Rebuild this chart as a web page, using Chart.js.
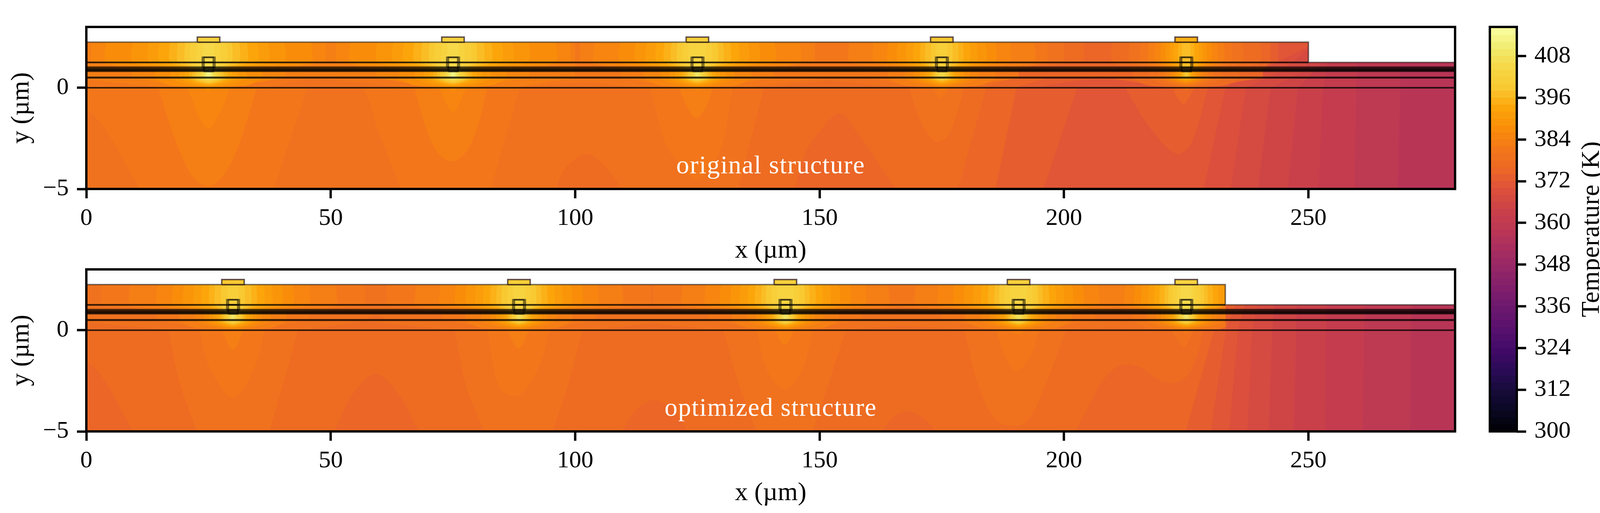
<!DOCTYPE html>
<html><head><meta charset="utf-8">
<script src="https://cdn.jsdelivr.net/npm/chart.js@4"></script>
<style>html,body{margin:0;padding:0;background:#fff;overflow:hidden;width:4146px;height:1314px}canvas{position:absolute}</style>
</head><body>
<canvas id="top" width="3800" height="700" style="left:0;top:0;width:3800px;height:700px"></canvas>
<canvas id="bot" width="3800" height="700" style="left:0;top:621px;width:3800px;height:700px"></canvas>
<canvas id="bar" width="386" height="1314" style="left:3760px;top:0;width:386px;height:1314px"></canvas>
<script>
// ---------- axis data ----------
const xTicks=[0,50,100,150,200,250];
const yTicks=[-5,0];
const cbarTicks=[300,312,324,336,348,360,372,384,396,408];
const xRange=[0,280], yRange=[-5,3], cbarRange=[300,416.4];
const cbarLevels=[300,302,304,306,308,310,312,314,316,318,320,322,324,326,328,330,332,334,336,338,340,342,344,346,348,350,352,354,356,358,360,362,364,366,368,370,372,374,376,378,380,382,384,386,388,390,392,394,396,398,400,402,404,406,408,410,412,414,416];
const infernoAnchors=[[0,'000004'],[.05,'0a0722'],[.1,'160b39'],[.15,'2b0b57'],[.2,'420a68'],[.25,'57106e'],[.3,'6a176e'],[.35,'7f1e6c'],[.4,'932667'],[.45,'a82e5f'],[.5,'bc3754'],[.55,'cc4248'],[.6,'dd513a'],[.65,'ed6925'],[.7,'f37819'],[.75,'f98e09'],[.8,'fca50a'],[.85,'f9c932'],[.9,'f6d746'],[.95,'f1ed71'],[1,'fcffa4']];
// ---------- structure ----------
const layerLines=[1.02,.97,.93,.9,.87,.84,.81];
const singleLines=[[.5,5],[0,4]];
const surfaceTop=[[0,2.25],[250,2.25],[250,1.25],[280,1.25]];
const surfaceBot=[[0,2.25],[233,2.25],[233,1.25],[280,1.25]];
// source: x, base level, top-zone peak, glow peak, top-width factor
const sourcesTop=[[25,384,404,412,1],[75,384,404,412,1],[125,382,403,408,1],[175,380,400,405,.9],[225,374,396,398,.72]];
const sourcesBot=[[30,380,400,408,1],[88.5,380,402,406,1],[143,380,403,408,1],[190.7,380,403,407,1],[225,378,404,408,.9]];
const topHalfWidths=[21,15.5,12.2,10,7.9,6.3,4.8,3.7,2.4,1.2];
const glowHalfWidths=[11,7.8,6,4.9,4,3.3,2.7,2.2,1.8,1.4,1.1,.8,.55,.3];
const glowTips=[-.19,.02,.08,.12,.16,.2,.24,.28,.32,.36,.4,.45,.5,.55];
const annotations=[['original structure'],['optimized structure']];
// ---------- contours of the lower field: [level, boundary points] ----------
const leftOfTop=[
[358,[268.3,-5],[268.8,0],[268.8,1.3]],
[360,[259.4,-5],[259.8,0],[260,1.3]],
[362,[252.1,-5],[253,0],[254,1.3]],
[364,[245.8,-5],[247.8,0],[251.2,.8],[253,1.3]],
[366,[239.7,-5],[242.3,0],[248.9,.8],[252,2.3]],
[368,[234.1,-5],[237.2,0],[244.3,.8],[252,2.3]],
[370,[228.6,-5],[233,0],[240,.8],[252,2.3]],
[372,[195.8,-5],[202.7,.02],[228,.02],[236.6,.8],[243.8,1.3],[243.8,2.3]],
[374,[186,-5],[190.3,.02],[197,.5],[222,.5],[234,.8],[240.3,1.3],[240.3,2.3]],
[376,[178.3,-5],[184.1,.02],[190,.5],[190,.9],[204,1.3],[204,2.3]],
[378,[133.4,-5],[138.6,0],[140.7,.04],[152,.36],[165.2,.04],[178,.35],[178,.9],[200,1.3],[200,2.3]],
[380,[82.7,-5],[88.7,.02],[102.2,.28],[112.6,.04],[135,.04],[152,.5],[166,.5],[166,2.3]]];
const shapesTop=[
[382,0,[-2,.45],[15.2,.03],[27,.03],[36,.5],[70,.5],[85,.03],[88,.03],[100,.5],[100,3],[-2,3]],
[370,.3,[194.3,.03],[207.2,.42],[221.8,.03]],
[376,.35,[95.5,-5.4],[97.9,-4],[102.5,-3.27],[106.5,-4],[110.5,-5.4]],
[374,.35,[144.4,-5.4],[146.8,-3.4],[149.3,-2.37],[154.2,-1.27],[157.9,-2.3],[160.6,-3.2],[166.7,-5.4]],
[378,.3,[-2,-.9],[.2,-1.15],[2,-1.47],[4.4,-2.24],[6.9,-3.27],[10.9,-5],[12,-5.5],[-2,-5.5]],
[378,.3,[37.8,-5.4],[41.1,-2.95],[43.9,-1],[45.7,.03],[56.1,.03],[59.5,-1.98],[65,-5.4]],
[378,.3,[36.9,.03],[46.6,.42],[65,.03]],
[380,.35,[115.3,.03],[118.7,-2.88],[121.8,-3.85],[124.8,-4.58],[128.2,-3.78],[130.3,-2.63],[132.2,.03]],
[378,.35,[168.2,.03],[170.7,-1.66],[173.1,-2.56],[174.4,-2.66],[176.2,-2.37],[178,-1.34],[179.6,.03]],
[380,.35,[173.1,.03],[174.7,-.52],[176.5,.03]],
[372,.35,[212.4,.03],[217.6,-1.98],[223.1,-3.27],[226.1,-2.7],[229.5,.03]],
[374,.35,[222.1,.03],[223,-.4],[224.4,-.8],[225.8,-.4],[226.7,.03]],
[382,.35,[14.7,.03],[16.7,-1.53],[19.1,-3.14],[21.9,-4.43],[25,-4.87],[27.7,-4.43],[30.7,-3.14],[33.2,-1.34],[34.9,.03]],
[384,.35,[20.6,.03],[21.9,-.75],[22.8,-1.35],[25,-2.03],[27.1,-1.35],[28.3,-.75],[29.4,.03]],
[382,.35,[67.1,.03],[69.3,-1.85],[71.7,-3.14],[74.8,-3.64],[77.8,-3.14],[80.3,-1.73],[82,.03]],
[384,.35,[72,.03],[75,-1.2],[77.8,.03]],
[382,.35,[121.2,.03],[123,-1],[124.8,-1.5],[126.7,-1],[128.2,.03]]];
const leftOfBot=[
[358,[270.8,-5],[271,0],[271.1,1.3]],
[360,[261.1,-5],[261.4,0],[261.6,1.3]],
[362,[253.4,-5],[253.6,0],[253.8,1.3]],
[364,[247,-5],[247.5,0],[247.6,1.3]],
[366,[241.9,-5],[242.6,0],[243,1.3]],
[368,[237.5,-5],[238.5,0],[239.6,1.3]],
[370,[233.8,-5],[235.6,0],[237.1,1.3]],
[372,[230,-5],[233.1,0],[235,1.3]],
[374,[224.9,-5],[230.7,0],[233.1,.8],[233.1,2.3]],
[376,[202.3,-5],[207.2,-2.73],[209.2,-2.1],[211.4,-1.73],[213.3,-1.67],[215.7,-1.83],[218,-2.25],[220,-2.54],[222.7,-2.63],[224.6,-2.4],[226.1,-1.96],[227.6,-1],[228.6,0],[232,.4],[233,2.3]]];
const shapesBot=[
[378,0,[-2,.45],[15.4,.03],[44.8,.03],[57,.45],[73.9,.03],[104.3,.03],[115.6,.35],[127.9,.03],[155.4,.03],[167,.22],[179.9,.03],[201,.03],[209.6,.13],[219.4,.03],[232,.03],[233,3],[-2,3]],
[376,.3,[57,.5],[59.2,.8],[61.4,.5]],
[374,.3,[-2,-1.2],[.2,-1.57],[2.6,-2.09],[5,-2.99],[9.3,-4.93],[10,-5.5],[-2,-5.5]],
[374,.35,[50.7,-5],[54.6,-3.12],[59.2,-2.17],[63.8,-3.12],[68,-5]],
[374,.35,[109.5,-5],[112.6,-3.9],[116.1,-3.46],[119.9,-3.9],[122.9,-5]],
[374,.35,[162.7,-5],[165.2,-4.27],[168.2,-4],[171,-4.3],[174,-5]],
[378,.25,[16.7,.03],[19.1,-2.6],[22.5,-4.93],[23,-5.5],[37,-5.5],[37.5,-4.93],[41.1,-1.96],[43.3,.03]],
[378,.25,[75.3,.03],[77.8,-2.86],[81.3,-4.93],[82,-5.5],[95,-5.5],[95.5,-4.93],[97.9,-3.2],[101.6,.03]],
[378,.25,[130.3,.03],[133.4,-2.6],[137,-4.93],[137.5,-5.5],[148.2,-5.5],[148.7,-4.93],[152.3,-2.28],[155.4,.03]],
[378,.35,[179.6,.03],[182.3,-2.6],[186,-4.4],[190.3,-4.72],[193.1,-4.3],[196.8,-2.34],[200.4,.03]],
[380,.35,[23.1,.03],[25.2,-1.83],[30,-3.34],[34.4,-1.83],[36.5,.03]],
[380,.35,[82,.03],[84.6,-2.86],[88.4,-3.23],[92.5,-1.83],[94.85,.03]],
[380,.35,[137,.03],[139.5,-2.09],[142.9,-2.91],[146.2,-2.09],[148.7,.03]],
[380,.35,[186,.03],[187.8,-1.19],[189,-1.77],[190.5,-2.02],[193.1,-1.32],[194.9,.03]],
[382,.35,[27.6,.03],[30,-.96],[32.3,.03]],
[382,.35,[86.1,.03],[88.4,-.9],[90.7,.03]],
[382,.35,[140.7,.03],[142.9,-.71],[144.9,.03]],
[382,.35,[188.8,.03],[190.5,-.21],[192.2,.03]],
[378,.35,[221.8,.03],[223,-.4],[224.4,-.85],[225.8,-.4],[226.7,.03]]];
// ---------- colour helpers ----------
function hex(h){return [0,2,4].map(i=>parseInt(h.substr(i,2),16));}
function colormap(f){f=Math.max(0,Math.min(1,f));for(let i=1;i<infernoAnchors.length;i++){const[a,ca]=infernoAnchors[i-1],[b,cb]=infernoAnchors[i];if(f<=b){const t=(f-a)/(b-a),A=hex(ca),B=hex(cb);return 'rgb('+A.map((v,k)=>Math.round(v+(B[k]-v)*t)).join(',')+')';}}}
function bandColor(L){return colormap((L+1-300)/116.4);}
function look(tbl,i){if(i<=0)return tbl[0];if(i>=tbl.length-1)return tbl[tbl.length-1];const a=Math.floor(i);return tbl[a]+(tbl[a+1]-tbl[a])*(i-a);}
// ---------- dataset builders ----------
const P=(a)=>a.map(([x,y])=>({x,y}));
function area(L,pts,t){return{data:P(pts),showLine:true,fill:'shape',backgroundColor:bandColor(L),borderColor:bandColor(L),borderWidth:0,pointRadius:0,tension:t||0,spanGaps:true};}
function stroke(pts,c,w){return{data:P(pts),showLine:true,fill:false,borderColor:c,borderWidth:w,pointRadius:0,tension:0,borderCapStyle:'butt',borderJoinStyle:'miter'};}
function rect(x0,x1,y0,y1){return[[x0,y0],[x1,y0],[x1,y1],[x0,y1],[x0,y0]];}
function mushrooms(sources,w0,xMax){const out=[];for(const[c,L0,pT,pG,sc]of sources){
  const kT=(pT-L0)/2,kG=(pG-L0)/2;
  const R=(h)=>Math.min(c+h,xMax);
  for(let k=0;k<=kG;k++){const L=L0+2*k;let hT,hB,tip;
    if(k===0){hT=w0*sc;hB=15.7;}
    else{hT=k<=kT?look(topHalfWidths,(k-1)*9/Math.max(1,kT-1))*sc:0;hB=look(glowHalfWidths,(k-1)*13/Math.max(1,kG-1));tip=look(glowTips,(k-1)*13/Math.max(1,kG-1));}
    const side=[];
    if(hT>0){side.push([hT,2.3],[hT,1.27]);}
    side.push([hB,.92],[hB,.5]);
    if(k===0){side.push([4.4,.03]);out.push({L,d:area(L,[...side.map(([h,y])=>[c-h,y]),...side.slice().reverse().map(([h,y])=>[R(h),y])],0)});continue;}
    side.push([hB*.72,.5-(.5-tip)*.55]);
    if(tip<0)side.push([.9,0]);
    const pts=[...side.map(([h,y])=>[c-h,y]),[c,tip],...side.slice().reverse().map(([h,y])=>[R(h),y])];
    out.push({L,d:area(L,pts,0.25)});
  }}
  return out.sort((a,b)=>a.L-b.L).map(o=>o.d);}
function panelDatasets(leftOf,shapes,sources,w0,surface,lastX,xMax){
  const ds=[];
  ds.push(area(356,[[-2,-6],[282,-6],[282,3.5],[-2,3.5]],0));
  for(const[L,...b]of leftOf){const f=b[0],l=b[b.length-1];ds.push(area(L,[[-3,-6],[f[0],-6],...b,[l[0],3.5],[-3,3.5]],0));}
  for(const[L,t,...pts]of shapes)ds.push(area(L,pts,t));
  ds.push(...mushrooms(sources,w0,xMax));
  const mask=[[-3,surface[0][1]],...surface.slice(1),[283,surface[3][1]],[283,4],[-3,4]];
  ds.push({data:P(mask),showLine:true,fill:'shape',backgroundColor:'#fff',borderWidth:0,pointRadius:0,tension:0});
  for(const y of layerLines)ds.push(stroke([[0,y],[280,y]],'rgba(0,0,0,.62)',3.6));
  for(const[y,w]of singleLines)ds.push(stroke([[0,y],[280,y]],'rgba(0,0,0,.78)',w));
  ds.push(stroke([[0,1.25],[lastX,1.25]],'rgba(0,0,0,.78)',4.3));
  ds.push(stroke(surface,'rgba(0,0,0,.5)',3.6));
  for(const[c,L0,pT]of sources){
    const pad=rect(c-2.3,c+2.3,2.25,2.5);
    ds.push(area(pT-2,pad,0));
    ds.push(stroke(pad,'rgba(0,0,0,.5)',4));
    ds.push(stroke(pad,'rgba(60,0,40,.5)',1.5));
    ds.push(stroke(rect(c-1.26,c+1.3,1.0,1.5),'rgba(0,0,0,.5)',4));
    ds.push(stroke(rect(c-.94,c+.98,.8,1.5),'rgba(0,0,0,.5)',4));
    ds.push(stroke([[c-.94,1.25],[c+.98,1.25]],'rgba(0,0,0,.7)',4));
  }
  ds.forEach((d,i)=>{d.order=ds.length-i;});
  return ds;
}
const FONT='"Liberation Serif"';
const fs=62, titleFs=66;
const framePlugin={id:'frame',afterDraw(ch){const a=ch.chartArea,c=ch.ctx;c.save();c.strokeStyle='#000';c.lineWidth=6;c.strokeRect(a.left,a.top,a.right-a.left,a.bottom-a.top);c.restore();}};
function notePlugin(text){return{id:'note',afterDatasetsDraw(ch){const c=ch.ctx;c.save();c.fillStyle='#fff';c.font='66px '+FONT;c.textAlign='center';c.textBaseline='alphabetic';c.letterSpacing='1.7px';c.fillText(text,ch.scales.x.getPixelForValue(140),ch.scales.y.getPixelForValue(-4.22));c.restore();}};}
function panel(id,datasets,note){
  return new Chart(document.getElementById(id),{type:'scatter',data:{datasets},
    options:{responsive:false,animation:false,devicePixelRatio:1,
      layout:{padding:{top:69,right:75,left:0,bottom:0}},
      plugins:{legend:{display:false},tooltip:{enabled:false},title:{display:false}},
      scales:{
        x:{type:'linear',min:xRange[0],max:xRange[1],afterFit(s){s.height=216;},
          afterBuildTicks(s){s.ticks=xTicks.map(v=>({value:v}));},
          border:{display:false},grid:{drawOnChartArea:false,drawTicks:true,tickLength:24,tickWidth:6,tickColor:'#000'},
          ticks:{color:'#000',font:{family:FONT,size:fs},padding:15,maxRotation:0,callback:v=>String(v)},
          title:{display:true,text:'x (µm)',color:'#000',font:{family:FONT,size:titleFs},padding:{top:0,bottom:18}}},
        y:{type:'linear',min:yRange[0],max:yRange[1],afterFit(s){s.width=221;},
          afterBuildTicks(s){s.ticks=yTicks.map(v=>({value:v}));},
          border:{display:false},grid:{drawOnChartArea:false,drawTicks:true,tickLength:24,tickWidth:6,tickColor:'#000'},
          ticks:{color:'#000',font:{family:FONT,size:fs},padding:21,callback:v=>v<0?'\u2212'+Math.abs(v):String(v)},
          title:{display:true,text:'y (µm)',color:'#000',font:{family:FONT,size:titleFs},padding:{top:16,bottom:0}}}
      }},plugins:[notePlugin(note),framePlugin]});
}
panel('top',panelDatasets(leftOfTop,shapesTop,sourcesTop,24,surfaceTop,250,280),annotations[0][0]);
panel('bot',panelDatasets(leftOfBot,shapesBot,sourcesBot,27,surfaceBot,233,233),annotations[1][0]);
// ---------- colour bar ----------
new Chart(document.getElementById('bar'),{type:'bar',
  data:{labels:['T'],datasets:cbarLevels.map(L=>({data:[[L,L+2]],backgroundColor:bandColor(L),borderWidth:0,barPercentage:1,categoryPercentage:1,grouped:false}))},
  options:{responsive:false,animation:false,devicePixelRatio:1,
    layout:{padding:{top:69,bottom:209,left:54,right:0}},
    plugins:{legend:{display:false},tooltip:{enabled:false}},
    scales:{x:{display:false,stacked:false},
      y:{position:'right',min:cbarRange[0],max:cbarRange[1],afterFit(s){s.width=263;},
        afterBuildTicks(s){s.ticks=cbarTicks.map(v=>({value:v}));},
        border:{display:false},grid:{drawOnChartArea:false,drawTicks:true,tickLength:24,tickWidth:6,tickColor:'#000'},
        ticks:{color:'#000',font:{family:FONT,size:fs},padding:21}}}},
  plugins:[framePlugin,{id:'cbTitle',afterDraw(ch){const c=ch.ctx;c.save();c.translate(4076-3760,587);c.rotate(-Math.PI/2);c.fillStyle='#000';c.font=titleFs+'px '+FONT;c.letterSpacing='.7px';c.textAlign='center';c.textBaseline='middle';c.fillText('Temperature (K)',0,0);c.restore();}}]});
</script>
</body></html>
